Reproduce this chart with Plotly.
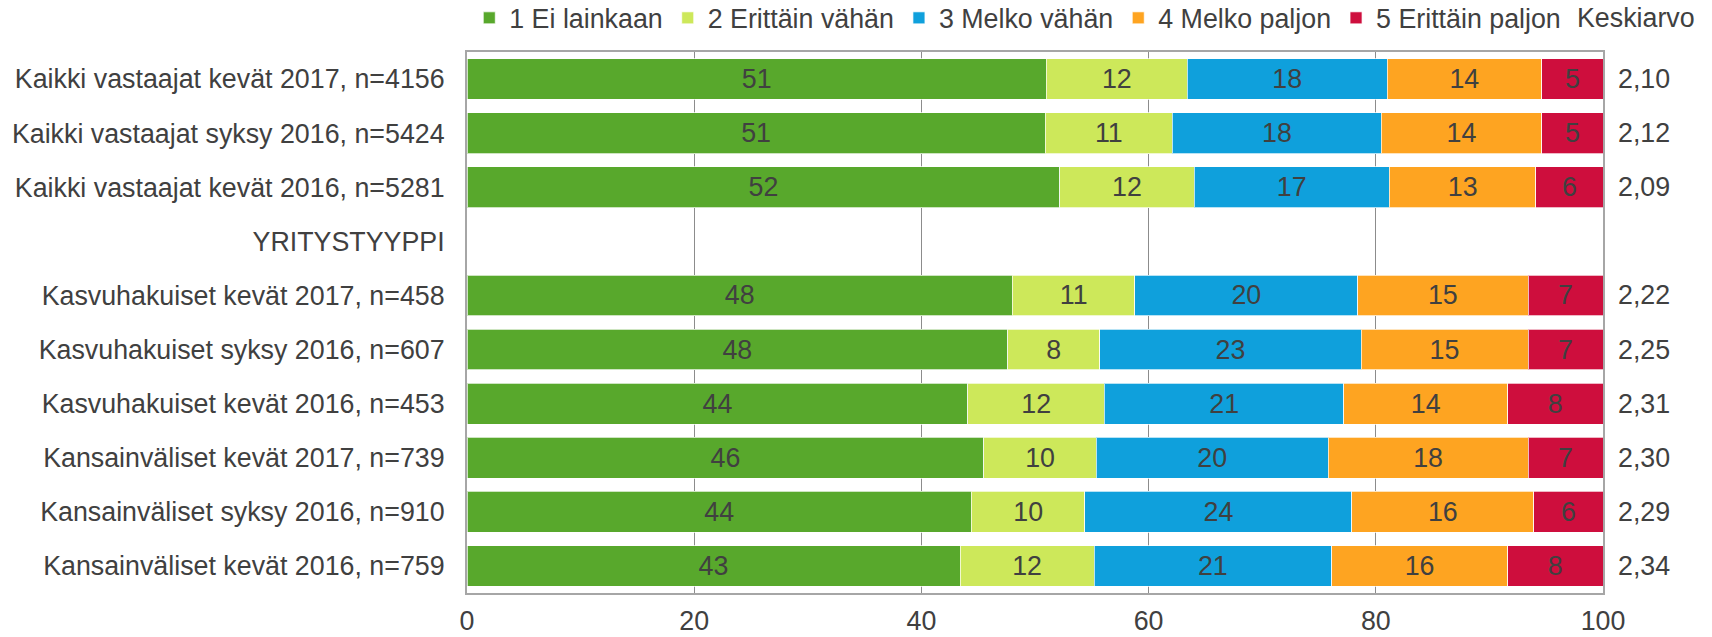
import plotly.graph_objects as go

categories = [
    "Kaikki vastaajat kevät 2017, n=4156",
    "Kaikki vastaajat syksy 2016, n=5424",
    "Kaikki vastaajat kevät 2016, n=5281",
    "YRITYSTYYPPI",
    "Kasvuhakuiset kevät 2017, n=458",
    "Kasvuhakuiset syksy 2016, n=607",
    "Kasvuhakuiset kevät 2016, n=453",
    "Kansainväliset kevät 2017, n=739",
    "Kansainväliset syksy 2016, n=910",
    "Kansainväliset kevät 2016, n=759",
]

series_names = ["1 Ei lainkaan", "2 Erittäin vähän", "3 Melko vähän",
                "4 Melko paljon", "5 Erittäin paljon"]

ei_lainkaan = [51.0, 50.9, 52.2, None, 48.0, 47.6, 44.1, 45.5, 44.4, 43.4]
erittain_vahan = [12.4, 11.2, 11.8, None, 10.8, 8.1, 12.0, 9.9, 10.0, 11.8]
melko_vahan = [17.6, 18.4, 17.2, None, 19.6, 23.0, 21.1, 20.4, 23.5, 20.9]
melko_paljon = [13.6, 14.1, 12.9, None, 15.0, 14.7, 14.4, 17.6, 16.0, 15.5]
erittain_paljon = [5.4, 5.4, 5.9, None, 6.6, 6.6, 8.4, 6.6, 6.1, 8.4]

keskiarvo = [2.10, 2.12, 2.09, None, 2.22, 2.25, 2.31, 2.30, 2.29, 2.34]

x_ticks = [0, 20, 40, 60, 80, 100]

colors = ["#58A82C", "#CDE85A", "#0FA0DC", "#FEA421", "#CE0E3D"]

FONT = "Liberation Sans, Arial, sans-serif"
TXT = "#404040"
FS = 26.8

fig = go.Figure()
for name, vals, col in zip(series_names,
                           [ei_lainkaan, erittain_vahan, melko_vahan, melko_paljon, erittain_paljon],
                           colors):
    fig.add_trace(go.Bar(
        name=name, y=categories, x=vals, orientation="h",
        marker=dict(color=col, line=dict(color="rgba(255,255,255,0.7)", width=1)),
        texttemplate="%{x:.0f}", textposition="inside", insidetextanchor="middle",
        textangle=0, constraintext="none",
        textfont=dict(family=FONT, size=FS, color=TXT),
        hoverinfo="skip",
    ))

for cat, v in zip(categories, keskiarvo):
    if v is None:
        continue
    fig.add_annotation(x=1.036, xref="paper", y=cat, yref="y",
                       text=f"{v:.2f}".replace(".", ","), showarrow=False,
                       xanchor="center", font=dict(family=FONT, size=FS, color=TXT))

fig.add_annotation(x=1.029, xref="paper", y=1.063, yref="paper", text="Keskiarvo",
                   showarrow=False, xanchor="center", yanchor="middle",
                   font=dict(family=FONT, size=FS, color=TXT))

fig.update_layout(
    width=1712, height=637,
    margin=dict(l=467, r=109, t=52, b=44, autoexpand=False),
    barmode="stack", bargap=0.245,
    paper_bgcolor="white", plot_bgcolor="white",
    font=dict(family=FONT, size=FS, color=TXT),
    legend=dict(orientation="h", x=0.002, xanchor="left", y=1.063, yanchor="middle",
                font=dict(family=FONT, size=FS, color=TXT), itemwidth=30,
                bgcolor="rgba(0,0,0,0)", traceorder="normal"),
    showlegend=True,
)
fig.update_xaxes(range=[0, 100], tickvals=x_ticks, ticktext=[str(t) for t in x_ticks],
                 showgrid=True, gridcolor="#8C8C8C", gridwidth=1,
                 showline=True, linecolor="#A6A6A6", linewidth=2, mirror=True,
                 zeroline=False, ticks="", ticklabelstandoff=3,
                 tickfont=dict(family=FONT, size=FS, color=TXT), fixedrange=True)
fig.update_yaxes(categoryorder="array", categoryarray=categories, autorange="reversed",
                 showgrid=False, showline=True, linecolor="#A6A6A6", linewidth=2, mirror=True,
                 ticks="", ticklabelstandoff=15,
                 tickfont=dict(family=FONT, size=FS, color=TXT), fixedrange=True)

fig.write_html("out.html", config={"displayModeBar": False},
               post_script="document.body.style.margin='0';document.body.style.padding='0';")
